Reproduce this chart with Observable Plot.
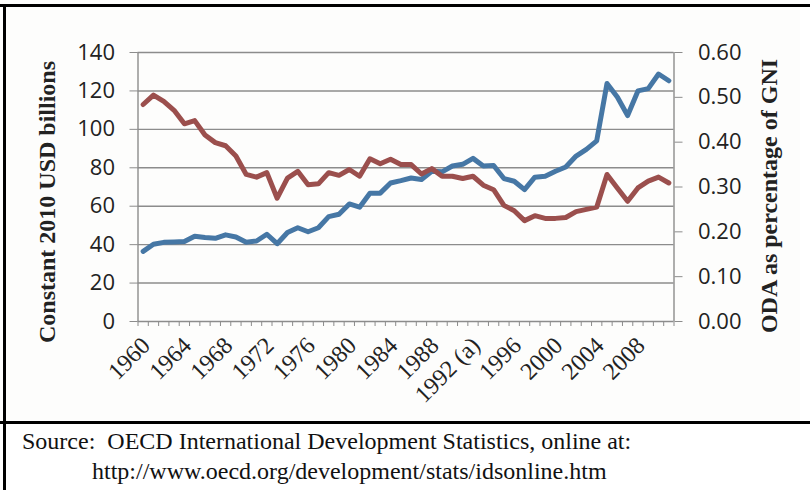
<!DOCTYPE html>
<html>
<head>
<meta charset="utf-8">
<script src="https://cdn.jsdelivr.net/npm/d3@7"></script>
<script src="https://cdn.jsdelivr.net/npm/@observablehq/plot@0.6"></script>
<style>
  html, body { margin: 0; padding: 0; background: #ffffff; }
  #wrap { position: relative; width: 810px; height: 490px; overflow: hidden; background: #ffffff; }
  #chart { position: absolute; left: 0; top: 0; }
  .hline { position: absolute; left: 0; width: 810px; height: 3px; background: #000; }
  .vline { position: absolute; top: 4px; width: 3px; height: 486px; background: #000; }
  #caption { position: absolute; left: 22px; top: 426px; font-family: "Liberation Serif", "Times New Roman", serif; font-size: 24px; line-height: 30px; color: #111; white-space: pre; }
  #caption .l2 { padding-left: 70px; }
  g[aria-label="y-axis label"] text { font-family: "Liberation Serif", "Times New Roman", serif; font-weight: bold; font-size: 24px; fill: #222; }
</style>
</head>
<body>
<div id="wrap">
  <div id="chart"></div>
  <div class="hline" style="top:4px"></div>
  <div class="vline" style="left:3px"></div>
  <div class="hline" style="top:421px"></div>
  <div id="caption"><div class="l1"></div><div class="l2"></div></div>
</div>
<script>
// ---- Data ----
const years = [1960,1961,1962,1963,1964,1965,1966,1967,1968,1969,1970,1971,1972,1973,1974,1975,1976,1977,1978,1979,
  1980,1981,1982,1983,1984,1985,1986,1987,1988,1989,1990,1991,1992,1993,1994,1995,1996,1997,1998,1999,
  2000,2001,2002,2003,2004,2005,2006,2007,2008,2009,2010,2011];

// ODA volume, constant 2010 USD billions (left axis, blue)
const odaVolume = [36.5,40.2,41.2,41.4,41.6,44.4,43.7,43.3,45.1,44.0,41.2,41.9,45.4,40.5,46.3,48.8,46.7,48.8,54.6,55.8,
  61.2,59.5,66.8,66.8,72.1,73.3,74.7,73.9,78.2,77.9,80.9,81.8,84.9,80.9,81.2,74.4,73.0,68.6,75.1,75.6,
  78.2,80.4,86.1,89.6,94.0,123.9,116.8,107.2,120.0,121.2,128.8,125.3];

// ODA as percentage of GNI (right axis, red)
const odaPctGni = [0.484,0.505,0.491,0.471,0.441,0.448,0.416,0.399,0.392,0.369,0.328,0.322,0.332,0.275,0.320,0.335,0.305,0.307,0.332,0.326,
  0.339,0.324,0.363,0.352,0.362,0.350,0.350,0.329,0.341,0.324,0.324,0.319,0.324,0.304,0.294,0.259,0.247,0.225,0.236,0.230,
  0.230,0.232,0.245,0.250,0.255,0.328,0.298,0.268,0.298,0.313,0.322,0.309];

const leftTicks = [0, 20, 40, 60, 80, 100, 120, 140];
const rightTicks = [0, 0.1, 0.2, 0.3, 0.4, 0.5, 0.6];
const xLabelYears = [1960,1964,1968,1972,1976,1980,1984,1988,1992,1996,2000,2004,2008];
const xLabelText = ["1960","1964","1968","1972","1976","1980","1984","1988","1992 (a)","1996","2000","2004","2008"];

const leftTitle = "Constant 2010 USD billions";
const rightTitle = "ODA as percentage of GNI";
const captionLine1 = "Source:  OECD International Development Statistics, online at:";
const captionLine2 = "http://www.oecd.org/development/stats/idsonline.htm";

// ---- Build ----
const leftMax = 140, rightMax = 0.6;
const k = leftMax / rightMax; // maps right-axis values onto the left scale
const rows = years.map((yr, i) => ({year: yr, vol: odaVolume[i], pct: odaPctGni[i]}));
const boundaries = [years[0] - 0.5, ...years.map(y => y + 0.5)];
const labelMap = new Map(xLabelYears.map((y, i) => [y, xLabelText[i]]));

const gridColor = "#8c8c8c";
const blue = "#4677a5";
const red = "#9b4f4d";
const sans = "'Open Sans', 'Liberation Sans', sans-serif";
const serif = "'Liberation Serif', 'Times New Roman', serif";

const chart = Plot.plot({
  width: 800,
  height: 420,
  marginLeft: 137.5,
  marginRight: 126.5,
  marginTop: 52,
  marginBottom: 99,
  style: {background: "#fdfdfc", color: "#222", overflow: "visible"},
  x: {type: "linear", domain: [boundaries[0], boundaries[boundaries.length - 1]]},
  y: {type: "linear", domain: [0, leftMax]},
  marks: [
    Plot.ruleY(leftTicks, {stroke: gridColor, strokeWidth: 1.4}),
    Plot.ruleX([boundaries[0], boundaries[boundaries.length - 1]], {stroke: gridColor, strokeWidth: 1.4}),
    // left axis
    Plot.axisY({anchor: "left", ticks: leftTicks, tickSize: 8, tickPadding: 15, stroke: gridColor,
      fontSize: 22, fontFamily: sans, tickFormat: d => String(d), label: null}),
    Plot.axisY({anchor: "left", ticks: [], label: leftTitle, labelAnchor: "center", labelOffset: 100,
      labelArrow: false}),
    // right axis (ODA % of GNI)
    Plot.axisY({anchor: "right", ticks: rightTicks.map(v => v * k), tickSize: 8, tickPadding: 16, stroke: gridColor,
      fontSize: 22, fontFamily: sans, tickFormat: d => (d / k).toFixed(2), label: null}),
    Plot.axisY({anchor: "right", ticks: [], label: rightTitle, labelAnchor: "center", labelOffset: 103,
      labelArrow: false}),
    // category tick marks
    Plot.axisX({ticks: boundaries, tickSize: 5, stroke: gridColor, tickFormat: () => "", label: null}),
    // year labels
    Plot.axisX({ticks: xLabelYears, tickSize: 0, tickPadding: 20, tickRotate: -45, dx: 3,
      fontSize: 24, fontFamily: serif, tickFormat: d => labelMap.get(d), label: null}),
    // lines
    Plot.line(rows, {x: "year", y: "vol", stroke: blue, strokeWidth: 5, strokeLinejoin: "round", strokeLinecap: "round"}),
    Plot.line(rows, {x: "year", y: d => d.pct * k, stroke: red, strokeWidth: 5, strokeLinejoin: "round", strokeLinecap: "round"})
  ]
});
// the axis titles sit slightly below the plot's vertical centre in the reference
const titleShift = [15, 9];
chart.querySelectorAll('g[aria-label="y-axis label"]').forEach((g, i) => {
  const t = g.getAttribute("transform") || "";
  g.setAttribute("transform", `translate(0,${titleShift[i] ?? 0}) ${t}`);
});
document.getElementById("chart").appendChild(chart);
document.querySelector("#caption .l1").textContent = captionLine1;
document.querySelector("#caption .l2").textContent = captionLine2;
</script>
</body>
</html>
